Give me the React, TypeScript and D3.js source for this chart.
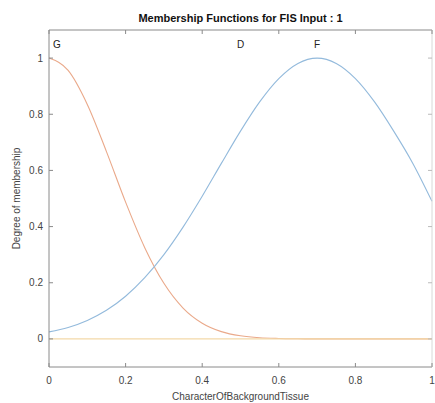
import React from "react";
import * as d3 from "d3";

const xs = [0, 0.05, 0.1, 0.15, 0.2, 0.25, 0.3, 0.35, 0.4, 0.45, 0.5, 0.55, 0.6, 0.65, 0.7, 0.75, 0.8, 0.85, 0.9, 0.95, 1.0];
const mfG = [1, 0.956, 0.835, 0.667, 0.487, 0.325, 0.198, 0.11, 0.056, 0.026, 0.011, 0.004, 0.0015, 0.0005, 0, 0, 0, 0, 0, 0, 0];
const mfD = [0, 0, 0, 0, 0, 0, 0, 0, 0, 0, 0, 0, 0, 0, 0, 0, 0, 0, 0, 0, 0];
const mfF = [0.025, 0.041, 0.066, 0.102, 0.152, 0.218, 0.3, 0.398, 0.508, 0.625, 0.74, 0.844, 0.927, 0.981, 1, 0.981, 0.927, 0.844, 0.74, 0.625, 0.49];
const mfNames = ["G", "D", "F"];
const mfPeaks = [0, 0.5, 0.7];
const xTicks = [0, 0.2, 0.4, 0.6, 0.8, 1];
const yTicks = [0, 0.2, 0.4, 0.6, 0.8, 1];
const title = "Membership Functions for FIS Input : 1";
const xLabel = "CharacterOfBackgroundTissue";
const yLabel = "Degree of membership";

export default function App() {
  const W = 435, H = 403;
  const L = 49, R = 432, T = 30, B = 367;
  const x = d3.scaleLinear().domain([0, 1]).range([L, R]);
  const y = d3.scaleLinear().domain([-0.1, 1.1]).range([B, T]);
  const line = d3.line<number>().x((_, i) => x(xs[i])).y((d) => y(d)).curve(d3.curveMonotoneX);
  const series = [
    { v: mfG, c: "#eaa98a" },
    { v: mfD, c: "#f3d9a8" },
    { v: mfF, c: "#93badc" },
  ];
  const axisColor = "#8a8a8a";
  const textColor = "#444";
  const font = "Liberation Sans, Arial, sans-serif";
  return (
    <svg width={W} height={H} style={{ position: "absolute", left: 0, top: 0, background: "#fff" }} fontFamily={font}>
      <rect x={0} y={0} width={W} height={H} fill="#fff" />
      {series.map((s, i) => (
        <path key={i} d={line(s.v) || ""} fill="none" stroke={s.c} strokeWidth={1.1} />
      ))}
      <line x1={L} x2={R} y1={B} y2={B} stroke={axisColor} strokeWidth={1} />
      <line x1={L} x2={L} y1={T} y2={B} stroke={axisColor} strokeWidth={1} />
      <line x1={L} x2={R} y1={T} y2={T} stroke={axisColor} strokeWidth={1} />
      <line x1={R} x2={R} y1={T} y2={B} stroke="#d8d8d8" strokeWidth={1} />
      {xTicks.map((t) => (
        <g key={"x" + t}>
          <line x1={x(t)} x2={x(t)} y1={B} y2={B - 4} stroke={axisColor} />
          <line x1={x(t)} x2={x(t)} y1={T} y2={T + 4} stroke={axisColor} />
          <text x={x(t)} y={B + 17} textAnchor="middle" fontSize={10} fill={textColor}>{String(t)}</text>
        </g>
      ))}
      {yTicks.map((t) => (
        <g key={"y" + t}>
          <line x1={L} x2={L + 4} y1={y(t)} y2={y(t)} stroke={axisColor} />
          <line x1={R} x2={R - 4} y1={y(t)} y2={y(t)} stroke="#bbb" />
          <text x={L - 6} y={y(t) + 3.5} textAnchor="end" fontSize={10} fill={textColor}>{String(t)}</text>
        </g>
      ))}
      {mfNames.map((n, i) => (
        <text key={n} x={i === 0 ? x(mfPeaks[i]) + 8 : x(mfPeaks[i])} y={48} textAnchor="middle" fontSize={10} fill="#222">{n}</text>
      ))}
      <text x={(L + R) / 2} y={21.5} textAnchor="middle" fontSize={11} fontWeight="bold" fill="#111">{title}</text>
      <text x={(L + R) / 2} y={400} textAnchor="middle" fontSize={10} fill={textColor}>{xLabel}</text>
      <text transform={`translate(20,${(T + B) / 2}) rotate(-90)`} textAnchor="middle" fontSize={10} fill={textColor}>{yLabel}</text>
    </svg>
  );
}
